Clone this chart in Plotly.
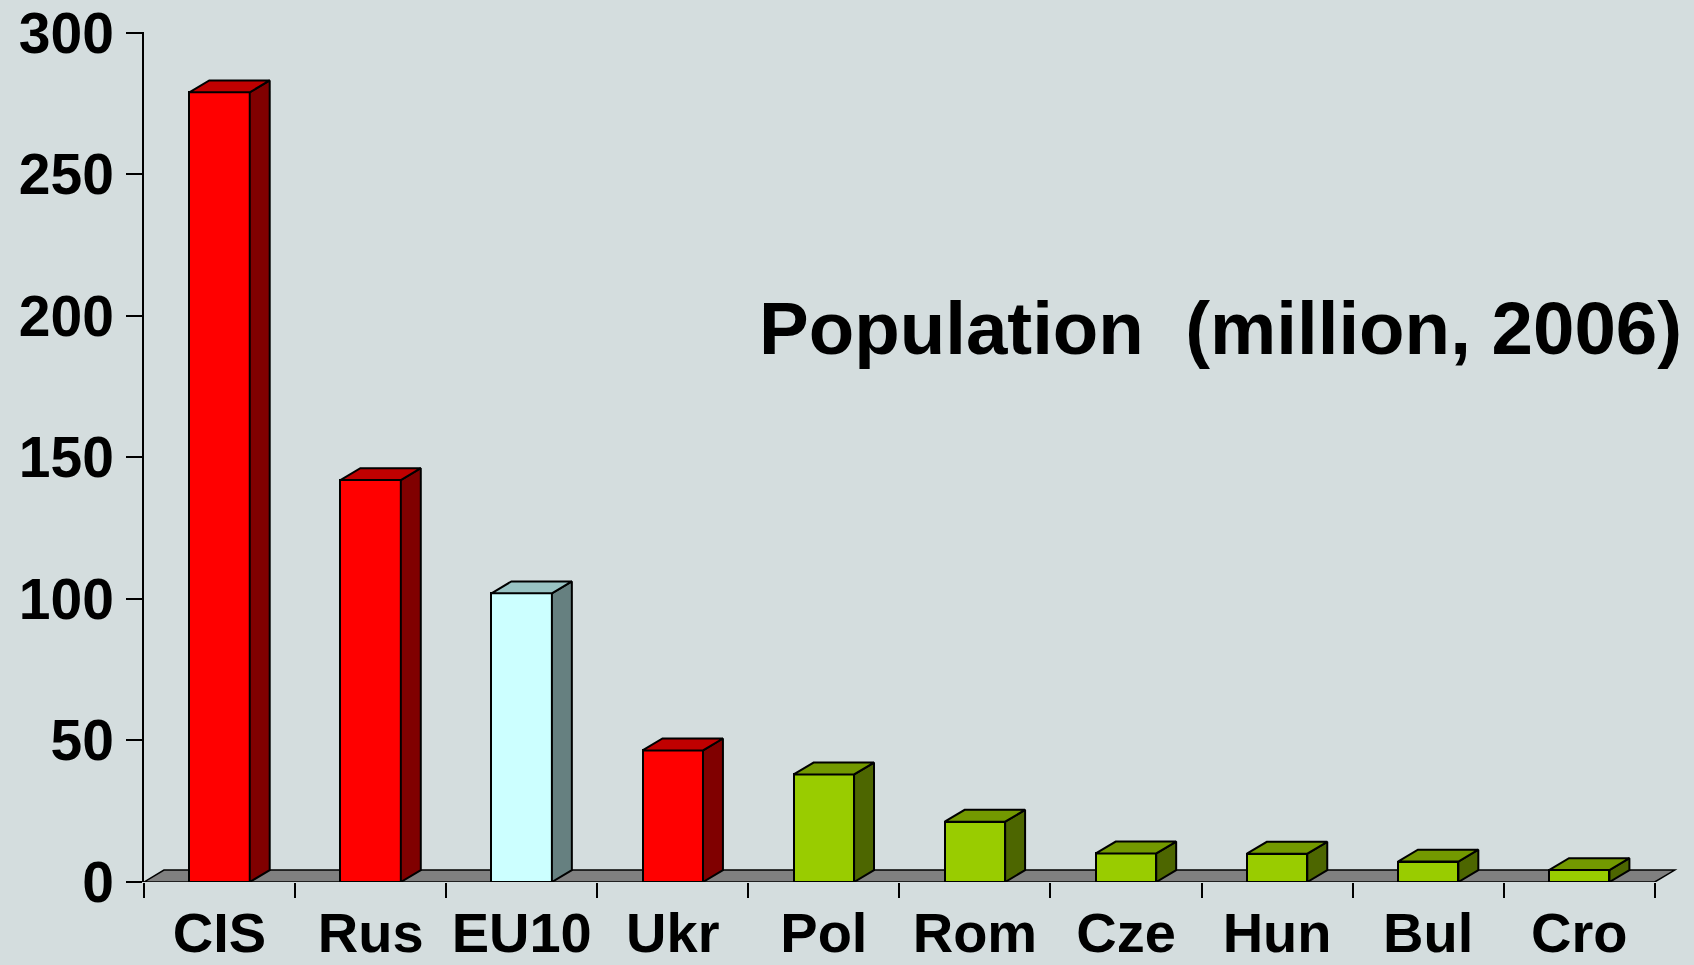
import plotly.graph_objects as go

# ---- data ----
categories = ["CIS", "Rus", "EU10", "Ukr", "Pol", "Rom", "Cze", "Hun", "Bul", "Cro"]
population = [279, 142, 102, 46.5, 38, 21.3, 10.1, 10.0, 7.2, 4.2]
groups = ["cis", "cis", "eu", "cis", "new", "new", "new", "new", "new", "new"]
y_ticks = [0, 50, 100, 150, 200, 250, 300]
title_text = "Population  (million, 2006)"

# ---- style ----
palette = {  # front, top, side
    "cis": ("#FF0000", "#C00000", "#800000"),
    "eu": ("#CCFFFF", "#99C3C3", "#668080"),
    "new": ("#99CC00", "#739900", "#4D6600"),
}
BG = "#D4DDDE"
BAR_W = 0.4
DX = 0.132   # depth offset in category units
DY = 4.2     # depth offset in value units
FONT = "Liberation Sans, Arial, sans-serif"
n = len(categories)
xs = list(range(n))

fig = go.Figure()

# front faces
fig.add_trace(go.Bar(
    x=xs, y=population, width=BAR_W,
    marker=dict(color=[palette[g][0] for g in groups],
                line=dict(color="black", width=2)),
    hoverinfo="skip", showlegend=False,
))

# side and top faces per colour group
for key, (front, top, side) in palette.items():
    sx, sy, tx, ty = [], [], [], []
    for i, (v, g) in enumerate(zip(population, groups)):
        if g != key:
            continue
        xl, xr = i - BAR_W / 2, i + BAR_W / 2
        sx += [xr, xr + DX, xr + DX, xr, xr, None]
        sy += [0, DY, v + DY, v, 0, None]
        tx += [xl, xr, xr + DX, xl + DX, xl, None]
        ty += [v, v, v + DY, v + DY, v, None]
    for px, py, col in ((sx, sy, side), (tx, ty, top)):
        fig.add_trace(go.Scatter(
            x=px, y=py, mode="lines", fill="toself", fillcolor=col,
            line=dict(color="black", width=2), hoverinfo="skip",
            showlegend=False, connectgaps=False,
        ))

# floor (behind bars)
x0, x1 = -0.5, n - 0.5
fig.add_shape(
    type="path", xref="x", yref="y", layer="below",
    path=f"M {x0},0 L {x1},0 L {x1 + DX},{DY} L {x0 + DX},{DY} Z",
    fillcolor="#808080", line=dict(color="black", width=1.5),
)

fig.add_annotation(
    text=title_text, xref="paper", yref="paper", x=0.398, y=0.651,
    xanchor="left", yanchor="middle", showarrow=False,
    font=dict(family=FONT, size=74.5, color="black", weight="bold"),
)

fig.update_layout(
    width=1694, height=965,
    margin=dict(l=144, r=9, t=32, b=83, autoexpand=False),
    paper_bgcolor=BG, plot_bgcolor=BG,
    showlegend=False, bargap=0,
    font=dict(family=FONT, color="black"),
)
fig.update_xaxes(
    range=[-0.5, n - 0.5 + 0.2], tickmode="array", tickvals=xs, ticktext=categories,
    ticks="", showline=False, showgrid=False, zeroline=False, automargin=False,
    tickfont=dict(family=FONT, size=56, color="black", weight="bold"),
    ticklabelstandoff=13,
    minor=dict(tickmode="array", tickvals=[i - 0.5 for i in range(n + 1)],
               ticks="outside", ticklen=15, tickwidth=1.5, tickcolor="black",
               showgrid=False),
)
fig.update_yaxes(
    range=[0, 300.3], tickmode="array", tickvals=y_ticks,
    ticks="outside", ticklen=16, tickwidth=1.5, tickcolor="black",
    showline=True, linecolor="black", linewidth=1.5,
    showgrid=False, zeroline=False, automargin=False,
    tickfont=dict(family=FONT, size=57, color="black", weight="bold"),
    ticklabelstandoff=1, ticklabeloverflow="allow",
)

fig.write_html("out.html", config={"displayModeBar": False},
               post_script="document.body.style.margin='0px';")
